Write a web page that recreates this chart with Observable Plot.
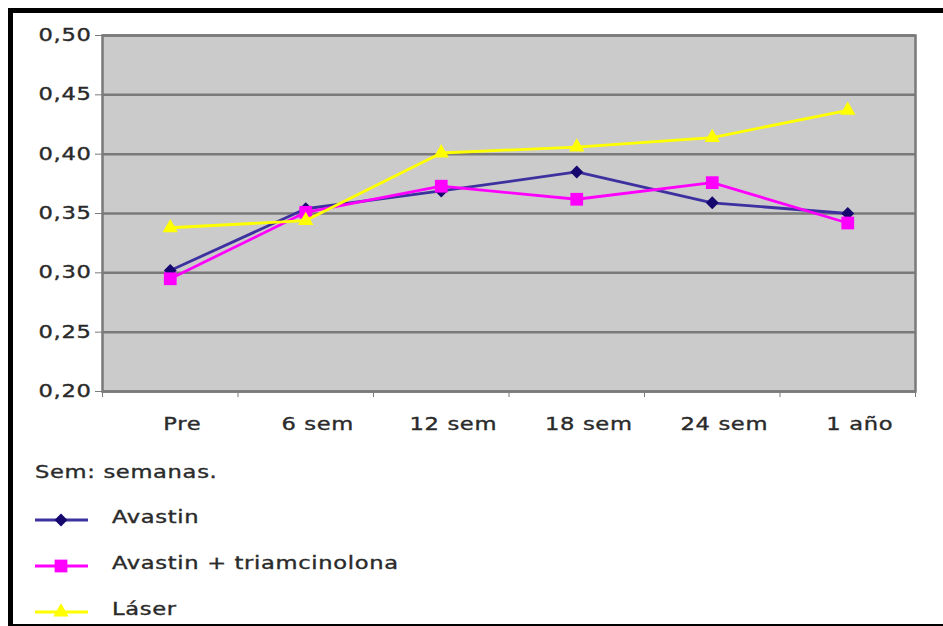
<!DOCTYPE html>
<html>
<head>
<meta charset="utf-8">
<script src="https://cdn.jsdelivr.net/npm/d3@7"></script>
<script src="https://cdn.jsdelivr.net/npm/@observablehq/plot@0.6"></script>
<style>
  html, body { margin: 0; padding: 0; background: #fff; }
  body { width: 943px; height: 626px; position: relative; overflow: hidden; }
  #frame {
    position: absolute; left: 8px; top: 8px; width: 960px; height: 618px;
    box-sizing: border-box;
    border-left: 5px solid #000; border-top: 5px solid #000; border-bottom: 2px solid #000;
  }
  #chart { position: absolute; left: 0; top: 0; }
  #legend { position: absolute; left: 0; top: 440px; }
  text { font-family: "DejaVu Sans", Verdana, sans-serif; }
</style>
</head>
<body>
<div id="frame"></div>
<div id="chart"></div>
<div id="legend"></div>
<script>
// Time points of the follow-up
const categories = ["Pre", "6 sem", "12 sem", "18 sem", "24 sem", "1 año"];

// Mean values per group at each time point
const avastin = [0.302, 0.354, 0.369, 0.385, 0.359, 0.350];
const avastinTriam = [0.295, 0.351, 0.373, 0.362, 0.376, 0.342];
const laser = [0.338, 0.344, 0.401, 0.406, 0.414, 0.437];

// Value axis ticks
const yTicks = [0.20, 0.25, 0.30, 0.35, 0.40, 0.45, 0.50];

const note = "Sem: semanas.";

// Wide lettering: every label is stretched horizontally about its anchor
const STRETCH = 1.33;
const INK = "#2a2a2a";

// Square-ish diamond marker (rotated square)
const diamond = {
  draw(context, size) {
    const r = Math.sqrt(size) * 0.7;
    context.moveTo(0, -r);
    context.lineTo(r, 0);
    context.lineTo(0, r);
    context.lineTo(-r, 0);
    context.closePath();
  }
};

const series = [
  {name: "Avastin", values: avastin, line: "#3d31a0", marker: "#16076e", symbol: diamond, r: 5.2},
  {name: "Avastin + triamcinolona", values: avastinTriam, line: "#ff00ff", marker: "#ff00ff", symbol: "square", r: 7.2},
  {name: "Láser", values: laser, line: "#ffff00", marker: "#ffff00", symbol: "triangle", r: 5.7}
];

const rows = series.flatMap(s =>
  categories.map((c, i) => ({series: s.name, category: c, i, value: s.values[i]}))
);

const fmt = d => d.toFixed(2).replace(".", ",");
const boundaries = d3.range(categories.length + 1).map(k => k - 0.5);
const centers = categories.map((c, i) => i);

const textStyle = {
  fontFamily: "'DejaVu Sans', Verdana, sans-serif",
  fontSize: "17px",
  letterSpacing: "0.5px",
  color: INK,
  background: "transparent",
  overflow: "visible"
};

const marks = [
  Plot.frame({fill: "#cbcbcb", stroke: "none"}),
  Plot.ruleY(yTicks, {stroke: "#7a7a7a", strokeWidth: 2.5}),
  Plot.frame({stroke: "#7a7a7a", strokeWidth: 2.5}),
  Plot.axisY({ticks: yTicks, tickFormat: fmt, tickSize: 7, tickPadding: 4, stroke: "#7a7a7a", fill: INK, label: null}),
  Plot.axisX({ticks: boundaries, tickFormat: () => "", tickSize: 6, stroke: "#7a7a7a", label: null}),
  Plot.axisX({ticks: centers, tickFormat: i => categories[i], tickSize: 0, tickPadding: 26, dx: 12, fill: INK, label: null})
];

for (const s of series) {
  const data = rows.filter(d => d.series === s.name);
  marks.push(Plot.line(data, {x: "i", y: "value", stroke: s.line, strokeWidth: 2.8}));
  marks.push(Plot.dot(data, {x: "i", y: "value", symbol: s.symbol, r: s.r, fill: s.marker, stroke: "none"}));
}

const chart = Plot.plot({
  width: 943,
  height: 440,
  marginLeft: 102,
  marginRight: 28,
  marginTop: 35,
  marginBottom: 49,
  style: textStyle,
  x: {type: "linear", domain: [-0.5, categories.length - 0.5]},
  y: {domain: [0.2, 0.5]},
  marks
});
document.getElementById("chart").appendChild(chart);

// Stretch each label horizontally about its own anchor point (after layout)
// and give the lettering a slightly heavier stroke
function stretchText(root) {
  root.querySelectorAll("text").forEach(t => {
    if (!t.textContent) return;
    const b = t.getBBox();
    const anchor = getComputedStyle(t).textAnchor;
    const ax = anchor === "end" ? b.x + b.width : anchor === "middle" ? b.x + b.width / 2 : b.x;
    const tr = t.getAttribute("transform") || "";
    t.setAttribute("transform", `${tr} translate(${ax},0) scale(${STRETCH},1) translate(${-ax},0)`);
    t.setAttribute("stroke", INK);
    t.setAttribute("stroke-width", 0.35);
  });
}
stretchText(chart);

// Legend below the chart
const leg = d3.select("#legend").append("svg")
  .attr("width", 943).attr("height", 186)
  .style("font-family", "'DejaVu Sans', Verdana, sans-serif")
  .style("font-size", "17px")
  .style("letter-spacing", "0.5px");

leg.append("text").attr("x", 35).attr("y", 38).attr("fill", INK).text(note);

series.forEach((s, k) => {
  const base = 83 + 46 * k;
  const g = leg.append("g");
  g.append("line").attr("x1", 35).attr("x2", 88).attr("y1", base - 3).attr("y2", base - 3)
    .attr("stroke", s.line).attr("stroke-width", 2.8);
  const sym = typeof s.symbol === "string"
    ? {square: d3.symbolSquare, triangle: d3.symbolTriangle}[s.symbol]
    : s.symbol;
  g.append("path")
    .attr("transform", `translate(61,${base - 3})`)
    .attr("d", d3.symbol(sym, s.r * s.r * Math.PI)())
    .attr("fill", s.marker);
  g.append("text").attr("x", 112).attr("y", base).attr("fill", INK).text(s.name);
});
stretchText(leg.node());
</script>
</body>
</html>
